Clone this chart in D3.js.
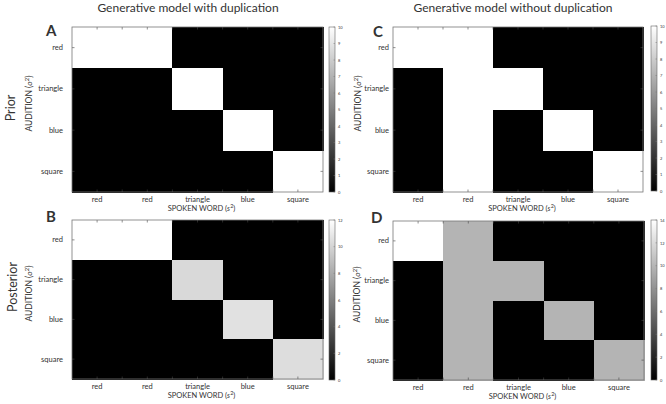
<!DOCTYPE html>
<html><head><meta charset="utf-8">
<script src="https://cdn.jsdelivr.net/npm/d3@7"></script>
<style>
html,body{margin:0;padding:0;background:#fff;}
text{font-family:Lato,"Open Sans",sans-serif;fill:#333;}
</style></head>
<body><svg id="c" width="666" height="404"></svg>
<script>
// ---- data ----
const spokenWords = ["red", "red", "triangle", "blue", "square"];
const auditions = ["red", "triangle", "blue", "square"];
const columnTitles = ["Generative model with duplication", "Generative model without duplication"];
const rowTitles = ["Prior", "Posterior"];
const panelLetters = ["A", "B", "C", "D"];
// matrices: rows = auditions, cols = spoken words
const priorWithDup = [
  [10, 10, 0, 0, 0],
  [0, 0, 10, 0, 0],
  [0, 0, 0, 10, 0],
  [0, 0, 0, 0, 10]
];
const posteriorWithDup = [
  [12, 12, 0, 0, 0],
  [0, 0, 10.2, 0, 0],
  [0, 0, 0, 10.6, 0],
  [0, 0, 0, 0, 10.4]
];
const priorWithoutDup = [
  [10, 10, 0, 0, 0],
  [0, 10, 10, 0, 0],
  [0, 10, 0, 10, 0],
  [0, 10, 0, 0, 10]
];
const posteriorWithoutDup = [
  [14, 9.9, 0, 0, 0],
  [0, 9.9, 9.9, 0, 0],
  [0, 9.9, 0, 9.9, 0],
  [0, 9.9, 0, 0, 9.9]
];
const colorbarMaxA = 10, colorbarMaxB = 12, colorbarMaxC = 10, colorbarMaxD = 14;
const colorbarTicksA = [0,1,2,3,4,5,6,7,8,9,10];
const colorbarTicksB = [0,2,4,6,8,10,12];
const colorbarTicksC = [0,1,2,3,4,5,6,7,8,9,10];
const colorbarTicksD = [0,2,4,6,8,10,12,14];

// ---- layout ----
const panels = [
  {letter: panelLetters[0], data: priorWithDup, max: colorbarMaxA, ticks: colorbarTicksA, x: [72, 323], y: [27, 192], cb: [329, 335], cby: [27, 192], rowLabelGap: 9, audX: 32, letterX: 46, letterY: 36},
  {letter: panelLetters[1], data: posteriorWithDup, max: colorbarMaxB, ticks: colorbarTicksB, x: [72, 323], y: [220, 379], cb: [329, 335], cby: [220, 380], rowLabelGap: 9, audX: 32, letterX: 46, letterY: 222},
  {letter: panelLetters[2], data: priorWithoutDup, max: colorbarMaxC, ticks: colorbarTicksC, x: [393, 643], y: [27, 192], cb: [651, 657], cby: [26, 191], rowLabelGap: 4, audX: 361, letterX: 373, letterY: 37},
  {letter: panelLetters[3], data: posteriorWithoutDup, max: colorbarMaxD, ticks: colorbarTicksD, x: [393, 644], y: [221, 380], cb: [651, 657], cby: [220, 380], rowLabelGap: 4, audX: 360, letterX: 371, letterY: 223}
];

const svg = d3.select("#c");
const defs = svg.append("defs");
const grad = defs.append("linearGradient").attr("id", "gray").attr("x1", 0).attr("y1", 1).attr("x2", 0).attr("y2", 0);
grad.append("stop").attr("offset", 0).attr("stop-color", "#000");
grad.append("stop").attr("offset", 1).attr("stop-color", "#fff");

// column titles
svg.append("text").attr("x", 188).attr("y", 12).attr("text-anchor", "middle").style("font-size", "12px").text(columnTitles[0]);
svg.append("text").attr("x", 513).attr("y", 12).attr("text-anchor", "middle").style("font-size", "12px").text(columnTitles[1]);
// row titles
svg.append("text").attr("transform", "translate(15,108) rotate(-90)").attr("text-anchor", "middle").style("font-size", "12.5px").text(rowTitles[0]);
svg.append("text").attr("transform", "translate(17,287) rotate(-90)").attr("text-anchor", "middle").style("font-size", "12.5px").text(rowTitles[1]);

panels.forEach(p => {
  const g = svg.append("g");
  const x = d3.scaleBand().domain(d3.range(spokenWords.length)).range(p.x);
  const y = d3.scaleBand().domain(d3.range(auditions.length)).range(p.y);
  const color = d3.scaleLinear().domain([0, p.max]).range(["#000", "#fff"]).clamp(true);

  const cells = [];
  p.data.forEach((row, r) => row.forEach((v, c) => cells.push({r, c, v})));
  g.selectAll("rect.cell").data(cells).join("rect")
    .attr("x", d => x(d.c)).attr("y", d => y(d.r))
    .attr("width", x.bandwidth() + 1).attr("height", y.bandwidth() + 1)
    .attr("shape-rendering", "crispEdges")
    .attr("fill", d => color(d.v));

  // inner ticks at half-column intervals
  const half = x.bandwidth() / 2;
  const xt = d3.range(1, spokenWords.length * 2).map(k => p.x[0] + k * half);
  const yhalf = y.bandwidth() / 2;
  const yt = d3.range(1, auditions.length * 2, 2).map(k => p.y[0] + k * yhalf);
  g.selectAll("line.xt").data(xt).join("line")
    .attr("x1", d => d).attr("x2", d => d).attr("y1", p.y[0]).attr("y2", p.y[0] + 2.5)
    .attr("stroke", "#444").attr("stroke-width", 0.6);
  g.selectAll("line.xb").data(xt).join("line")
    .attr("x1", d => d).attr("x2", d => d).attr("y1", p.y[1]).attr("y2", p.y[1] - 2.5)
    .attr("stroke", "#444").attr("stroke-width", 0.6);
  g.selectAll("line.yl").data(yt).join("line")
    .attr("x1", p.x[0]).attr("x2", p.x[0] + 2.5).attr("y1", d => d).attr("y2", d => d)
    .attr("stroke", "#444").attr("stroke-width", 0.6);
  g.selectAll("line.yr").data(yt).join("line")
    .attr("x1", p.x[1]).attr("x2", p.x[1] - 2.5).attr("y1", d => d).attr("y2", d => d)
    .attr("stroke", "#444").attr("stroke-width", 0.6);

  // frame
  g.append("rect").attr("x", p.x[0]).attr("y", p.y[0]).attr("width", p.x[1] - p.x[0]).attr("height", p.y[1] - p.y[0])
    .attr("fill", "none").attr("stroke", "#777").attr("stroke-width", 0.8);

  // x axis labels
  const xa = d3.axisBottom(x).tickSize(0).tickPadding(0).tickFormat(i => spokenWords[i]);
  const gx = g.append("g").attr("transform", `translate(0,${p.y[1] + 10})`).call(xa);
  gx.select(".domain").remove();
  gx.selectAll("text").style("font-size", "7.5px").attr("fill", "#333").attr("dy", "0");

  // y axis labels
  const ya = d3.axisLeft(y).tickSize(0).tickPadding(p.rowLabelGap).tickFormat(i => auditions[i]);
  const gy = g.append("g").attr("transform", `translate(${p.x[0]},0)`).call(ya);
  gy.select(".domain").remove();
  gy.selectAll("text").style("font-size", "7.5px").attr("fill", "#333");

  // axis titles
  const sx = g.append("text").attr("x", (p.x[0] + p.x[1]) / 2 + 4).attr("y", p.y[1] + 19)
    .attr("text-anchor", "middle").style("font-size", "7.5px");
  sx.append("tspan").text("SPOKEN WORD (");
  sx.append("tspan").style("font-style", "italic").text("s");
  sx.append("tspan").attr("dy", -3).style("font-size", "5.5px").text("2");
  sx.append("tspan").attr("dy", 3).text(")");

  const sy = g.append("text").attr("transform", `translate(${p.audX},${(p.y[0] + p.y[1]) / 2 - 6}) rotate(-90)`)
    .attr("text-anchor", "middle").style("font-size", "8.5px");
  sy.append("tspan").text("AUDITION (");
  sy.append("tspan").style("font-style", "italic").text("o");
  sy.append("tspan").attr("dy", -3).style("font-size", "6px").text("2");
  sy.append("tspan").attr("dy", 3).text(")");

  // panel letter
  g.append("text").attr("x", p.letterX).attr("y", p.letterY).style("font-size", "15px").style("font-weight", "bold")
    .attr("fill", "#111").text(p.letter);

  // colorbar
  const cbScale = d3.scaleLinear().domain([0, p.max]).range([p.cby[1], p.cby[0]]);
  g.append("rect").attr("x", p.cb[0]).attr("y", p.cby[0]).attr("width", p.cb[1] - p.cb[0]).attr("height", p.cby[1] - p.cby[0])
    .attr("fill", "url(#gray)").attr("stroke", "#666").attr("stroke-width", 0.6);
  const ca = d3.axisRight(cbScale).tickValues(p.ticks).tickSize(0).tickPadding(3);
  const gc = g.append("g").attr("transform", `translate(${p.cb[1]},0)`).call(ca);
  gc.select(".domain").remove();
  gc.selectAll("text").style("font-size", "4px").attr("fill", "#555");
  g.selectAll("line.cbt").data(p.ticks).join("line")
    .attr("x1", p.cb[1]).attr("x2", p.cb[1] - 1.5).attr("y1", d => cbScale(d)).attr("y2", d => cbScale(d))
    .attr("stroke", "#777").attr("stroke-width", 0.5);
});
</script></body></html>
